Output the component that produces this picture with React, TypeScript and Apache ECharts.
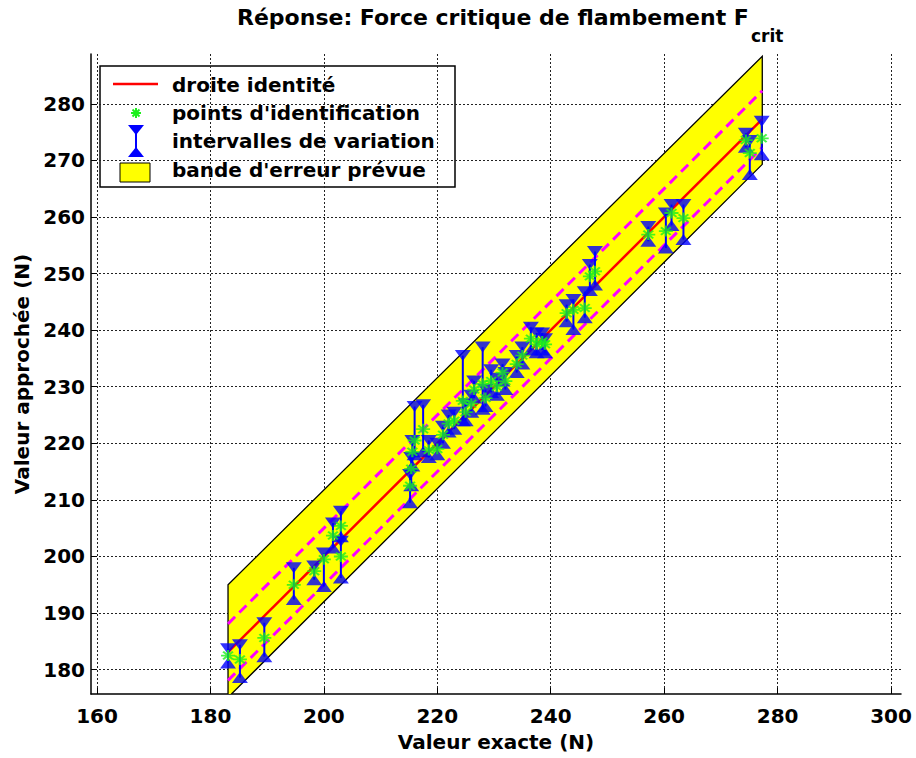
import React, { useEffect, useRef } from "react";
import * as echarts from "echarts";

// ---- data ----
const xTicks = [160, 180, 200, 220, 240, 260, 280, 300];
const yTicks = [180, 190, 200, 210, 220, 230, 240, 250, 260, 270, 280];

// identification points: exact value, approximated value, interval bounds
const exactValues = [
  183.1, 185.2, 189.5, 194.7, 198.3, 200.0, 201.6, 203.0, 203.0,
  215.2, 215.4, 215.6, 216.0, 217.5, 218.5, 220.0, 221.0,
  222.0, 223.0, 224.5, 225.0, 226.0, 226.5, 228.0, 228.5, 229.5, 230.5, 231.5, 232.0,
  234.0, 235.0, 236.5, 237.5, 238.5, 239.0,
  242.8, 244.0, 246.0, 246.9, 247.8,
  257.2, 260.3, 261.3, 263.4,
  274.4, 275.1, 277.2,
];
const approxValues = [
  182.5, 181.8, 185.6, 195.0, 197.4, 199.5, 203.7, 205.4, 200.0,
  212.5, 215.5, 218.5, 220.5, 222.5, 218.8, 219.0, 221.5,
  223.5, 224.0, 227.5, 225.5, 227.0, 229.5, 230.5, 228.0, 231.0, 230.0, 232.5, 231.0,
  234.0, 235.5, 238.5, 237.5, 238.0, 237.5,
  243.0, 243.6, 243.9, 249.5, 250.4,
  256.9, 257.5, 260.7, 259.8,
  273.6, 271.3, 273.9,
];
const lowerBounds = [
  181.2, 178.6, 182.3, 192.4, 195.9, 194.7, 201.5, 203.5, 196.2,
  209.5, 212.5, 216.0, 218.0, 218.5, 217.5, 218.0, 220.0,
  222.0, 222.5, 224.0, 224.0, 225.5, 228.0, 226.0, 226.5, 229.0, 228.5, 231.0, 229.5,
  232.5, 234.0, 236.5, 236.0, 236.5, 236.0,
  241.5, 240.1, 242.2, 247.0, 248.0,
  255.7, 254.5, 258.5, 256.0,
  272.3, 267.5, 271.0,
];
const upperBounds = [
  183.7, 184.4, 188.3, 198.0, 198.3, 200.6, 205.9, 208.0, 202.7,
  214.5, 217.5, 220.5, 226.5, 226.8, 220.5, 220.0, 223.0,
  225.0, 225.5, 235.5, 227.0, 228.5, 231.0, 237.0, 229.5, 233.0, 231.5, 234.0, 232.5,
  235.5, 237.0, 240.5, 239.5, 239.5, 238.5,
  244.5, 245.4, 246.8, 251.6, 253.9,
  258.3, 260.7, 262.2, 262.2,
  274.8, 273.5, 276.9,
];

const identityLine = [[183.1, 183.1], [277.3, 277.3]];
const upperDashed = [[183.1, 188.1], [277.3, 282.3]];
const lowerDashed = [[183.1, 178.1], [277.3, 272.3]];
const errorBand = [[183.1, 175.1], [183.1, 195.0], [277.3, 288.4], [277.3, 269.3]];

const FONT = "DejaVu Sans";
const BLUE = "#0000ff";
const GREEN = "#1cf01c";
const ASTERISK = "path://M0,-6L0,6M-6,0L6,0M-4.2,-4.2L4.2,4.2M-4.2,4.2L4.2,-4.2";

export default function App() {
  const ref = useRef<HTMLDivElement>(null);

  useEffect(() => {
    document.body.style.margin = "0";
    const chart = echarts.init(ref.current!, null, { renderer: "svg" });

    const axisText = { fontFamily: FONT, fontWeight: "bold" as const, fontSize: 20, color: "#000" };
    const split = { show: true, lineStyle: { type: [2, 2], color: "#222", width: 1 } };

    const legendX = 172;
    const legendRows = [85, 113, 141, 170];

    chart.setOption({
      animation: false,
      backgroundColor: "#fff",
      title: {
        text: "Réponse: Force critique de flambement F",
        left: 237,
        top: 4,
        padding: 0,
        textStyle: { fontFamily: FONT, fontWeight: "bold", fontSize: 22, color: "#000", lineHeight: 26 },
      },
      grid: { left: 91, right: 15, top: 54, bottom: 64, containLabel: false },
      xAxis: {
        type: "value",
        min: 158.94,
        max: 301.76,
        name: "Valeur exacte (N)",
        nameLocation: "middle",
        nameGap: 38,
        nameTextStyle: { ...axisText, fontSize: 20 },
        axisLine: { show: true, onZero: false, lineStyle: { color: "#000", width: 1.5 } },
        axisTick: { show: true, inside: true, length: 6, customValues: xTicks, lineStyle: { color: "#000" } },
        axisLabel: { ...axisText, customValues: xTicks, margin: 12 },
        splitLine: split,
      },
      yAxis: {
        type: "value",
        min: 175.7,
        max: 288.8,
        name: "Valeur approchée (N)",
        nameLocation: "middle",
        nameGap: 58,
        nameTextStyle: { ...axisText, fontSize: 20 },
        axisLine: { show: true, onZero: false, lineStyle: { color: "#000", width: 1.5 } },
        axisTick: { show: true, inside: true, length: 6, customValues: yTicks, lineStyle: { color: "#000" } },
        axisLabel: { ...axisText, customValues: yTicks, margin: 6 },
        splitLine: split,
      },
      series: [
        {
          type: "custom",
          name: "bande d'erreur prévue",
          data: errorBand,
          clip: true,
          silent: true,
          z: 1,
          renderItem: (params: any, api: any) => {
            if (params.dataIndex !== 0) return null;
            const pts = errorBand.map((p) => api.coord(p));
            return {
              type: "polygon",
              shape: { points: pts },
              style: { fill: "#ffff00", stroke: "#000", lineWidth: 1.3 },
            };
          },
        },
        {
          type: "line",
          data: upperDashed,
          symbol: "none",
          silent: true,
          z: 2,
          lineStyle: { color: "#ff00ff", width: 3, type: [10, 6] },
        },
        {
          type: "line",
          data: lowerDashed,
          symbol: "none",
          silent: true,
          z: 2,
          lineStyle: { color: "#ff00ff", width: 3, type: [10, 6] },
        },
        {
          type: "line",
          name: "droite identité",
          data: identityLine,
          symbol: "none",
          silent: true,
          z: 3,
          lineStyle: { color: "#ff0000", width: 2.5 },
        },
        {
          type: "custom",
          name: "intervalles de variation",
          data: exactValues.map((x, i) => [x, lowerBounds[i], upperBounds[i]]),
          encode: { x: 0, y: [1, 2] },
          clip: true,
          z: 4,
          renderItem: (params: any, api: any) => {
            const x = api.value(0);
            const p1 = api.coord([x, api.value(1)]);
            const p2 = api.coord([x, api.value(2)]);
            return {
              type: "line",
              shape: { x1: p1[0], y1: p1[1], x2: p2[0], y2: p2[1] },
              style: { stroke: BLUE, lineWidth: 2 },
            };
          },
        },
        {
          type: "scatter",
          data: exactValues.map((x, i) => [x, upperBounds[i]]),
          symbol: "triangle",
          symbolRotate: 180,
          symbolSize: [16, 11],
          itemStyle: { color: BLUE },
          z: 5,
        },
        {
          type: "scatter",
          data: exactValues.map((x, i) => [x, lowerBounds[i]]),
          symbol: "triangle",
          symbolSize: [16, 11],
          itemStyle: { color: BLUE },
          z: 5,
        },
        {
          type: "scatter",
          name: "points d'identification",
          data: exactValues.map((x, i) => [x, approxValues[i]]),
          symbol: ASTERISK,
          symbolSize: [14, 11],
          itemStyle: { color: GREEN, borderColor: GREEN, borderWidth: 2 },
          z: 6,
        },
      ],
      graphic: [
        {
          type: "text",
          x: 751,
          y: 44,
          z: 100,
          style: { text: "crit", fontFamily: FONT, fontWeight: "bold", fontSize: 17, fill: "#000", align: "left", verticalAlign: "bottom" },
        },
        {
          type: "group",
          z: 100,
          children: [
            { type: "rect", shape: { x: 100, y: 66, width: 355, height: 121 }, style: { fill: "#fff", stroke: "#000", lineWidth: 1.5 } },
            { type: "line", shape: { x1: 113, y1: 84, x2: 158, y2: 84 }, style: { stroke: "#ff0000", lineWidth: 2.5 } },
            { type: "line", shape: { x1: 136, y1: 108, x2: 136, y2: 118 }, style: { stroke: GREEN, lineWidth: 2 } },
            { type: "line", shape: { x1: 131, y1: 113, x2: 141, y2: 113 }, style: { stroke: GREEN, lineWidth: 2 } },
            { type: "line", shape: { x1: 132.5, y1: 109.5, x2: 139.5, y2: 116.5 }, style: { stroke: GREEN, lineWidth: 2 } },
            { type: "line", shape: { x1: 132.5, y1: 116.5, x2: 139.5, y2: 109.5 }, style: { stroke: GREEN, lineWidth: 2 } },
            { type: "line", shape: { x1: 136, y1: 130, x2: 136, y2: 152 }, style: { stroke: BLUE, lineWidth: 2 } },
            { type: "polygon", shape: { points: [[128, 125], [144, 125], [136, 135]] }, style: { fill: BLUE } },
            { type: "polygon", shape: { points: [[128, 157], [144, 157], [136, 147]] }, style: { fill: BLUE } },
            { type: "rect", shape: { x: 120, y: 163, width: 30, height: 19 }, style: { fill: "#ffff00", stroke: "#000", lineWidth: 1 } },
            ...["droite identité", "points d'identification", "intervalles de variation", "bande d'erreur prévue"].map((t, i) => ({
              type: "text",
              x: legendX,
              y: legendRows[i],
              style: { text: t, fontFamily: FONT, fontWeight: "bold", fontSize: 20, fill: "#000", verticalAlign: "middle", align: "left" },
            })),
          ],
        },
      ],
    });

    return () => chart.dispose();
  }, []);

  return <div ref={ref} style={{ width: 916, height: 758 }} />;
}
